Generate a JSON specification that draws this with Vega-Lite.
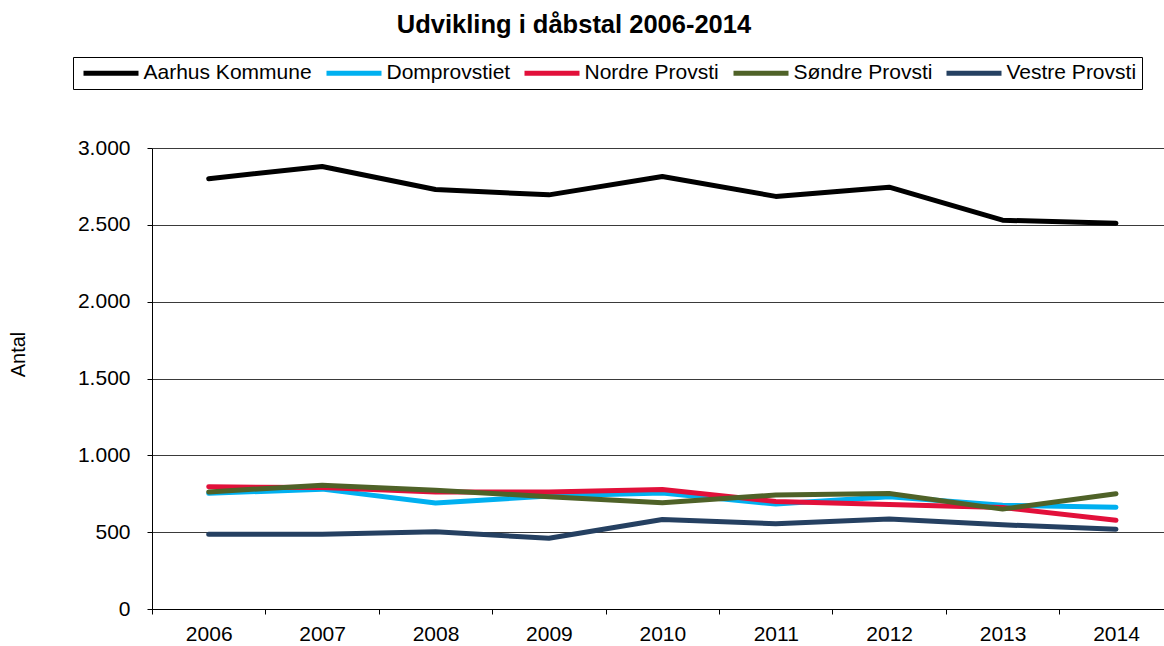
{
  "$schema": "https://vega.github.io/schema/vega-lite/v6.json",
  "width": 1012,
  "height": 461,
  "autosize": "none",
  "padding": {"left": 152, "top": 148, "right": 0, "bottom": 37},
  "title": {
    "text": "Udvikling i dåbstal 2006-2014",
    "fontSize": 25.5,
    "fontWeight": "bold",
    "color": "#000000",
    "anchor": "middle",
    "dx": -84,
    "dy": -18,
    "offset": 0
  },
  "data": {
    "values": [
      {"year": "2006", "series": "Aarhus Kommune", "value": 2800},
      {"year": "2007", "series": "Aarhus Kommune", "value": 2880},
      {"year": "2008", "series": "Aarhus Kommune", "value": 2730},
      {"year": "2009", "series": "Aarhus Kommune", "value": 2695},
      {"year": "2010", "series": "Aarhus Kommune", "value": 2815},
      {"year": "2011", "series": "Aarhus Kommune", "value": 2685},
      {"year": "2012", "series": "Aarhus Kommune", "value": 2745},
      {"year": "2013", "series": "Aarhus Kommune", "value": 2530},
      {"year": "2014", "series": "Aarhus Kommune", "value": 2510},
      {"year": "2006", "series": "Domprovstiet", "value": 753},
      {"year": "2007", "series": "Domprovstiet", "value": 780},
      {"year": "2008", "series": "Domprovstiet", "value": 690},
      {"year": "2009", "series": "Domprovstiet", "value": 735},
      {"year": "2010", "series": "Domprovstiet", "value": 755},
      {"year": "2011", "series": "Domprovstiet", "value": 683},
      {"year": "2012", "series": "Domprovstiet", "value": 730},
      {"year": "2013", "series": "Domprovstiet", "value": 675},
      {"year": "2014", "series": "Domprovstiet", "value": 662},
      {"year": "2006", "series": "Nordre Provsti", "value": 795},
      {"year": "2007", "series": "Nordre Provsti", "value": 790},
      {"year": "2008", "series": "Nordre Provsti", "value": 762},
      {"year": "2009", "series": "Nordre Provsti", "value": 762},
      {"year": "2010", "series": "Nordre Provsti", "value": 777},
      {"year": "2011", "series": "Nordre Provsti", "value": 700},
      {"year": "2012", "series": "Nordre Provsti", "value": 680},
      {"year": "2013", "series": "Nordre Provsti", "value": 660},
      {"year": "2014", "series": "Nordre Provsti", "value": 577},
      {"year": "2006", "series": "Søndre Provsti", "value": 762},
      {"year": "2007", "series": "Søndre Provsti", "value": 806},
      {"year": "2008", "series": "Søndre Provsti", "value": 773},
      {"year": "2009", "series": "Søndre Provsti", "value": 731},
      {"year": "2010", "series": "Søndre Provsti", "value": 692},
      {"year": "2011", "series": "Søndre Provsti", "value": 742},
      {"year": "2012", "series": "Søndre Provsti", "value": 752},
      {"year": "2013", "series": "Søndre Provsti", "value": 650},
      {"year": "2014", "series": "Søndre Provsti", "value": 750},
      {"year": "2006", "series": "Vestre Provsti", "value": 486},
      {"year": "2007", "series": "Vestre Provsti", "value": 486},
      {"year": "2008", "series": "Vestre Provsti", "value": 502},
      {"year": "2009", "series": "Vestre Provsti", "value": 460},
      {"year": "2010", "series": "Vestre Provsti", "value": 582},
      {"year": "2011", "series": "Vestre Provsti", "value": 555},
      {"year": "2012", "series": "Vestre Provsti", "value": 585},
      {"year": "2013", "series": "Vestre Provsti", "value": 548},
      {"year": "2014", "series": "Vestre Provsti", "value": 519}
    ]
  },
  "mark": {"type": "line", "strokeWidth": 5, "strokeCap": "round", "strokeJoin": "round"},
  "encoding": {
    "x": {
      "field": "year",
      "type": "ordinal",
      "bandPosition": 0.5,
      "scale": {"type": "band", "range": [0, 1020.7], "paddingInner": 0, "paddingOuter": 0},
      "axis": {
        "title": null,
        "labelAngle": 0,
        "labelFontSize": 21,
        "labelColor": "#000000",
        "labelPadding": 9,
        "tickBand": "extent",
        "tickSize": 5,
        "tickColor": "#000000",
        "domainColor": "#000000",
        "domainWidth": 1,
        "grid": false
      }
    },
    "y": {
      "field": "value",
      "type": "quantitative",
      "scale": {"domain": [0, 3000], "nice": false},
      "axis": {
        "title": "Antal",
        "titleFontSize": 20,
        "titleFontWeight": "normal",
        "titleColor": "#000000",
        "titleAngle": -90,
        "titleAlign": "center",
        "titleBaseline": "middle",
        "titleX": -133.5,
        "titleY": 206,
        "values": [0, 500, 1000, 1500, 2000, 2500, 3000],
        "labelExpr": "replace(format(datum.value, ','), ',', '.')",
        "labelFontSize": 21,
        "labelColor": "#000000",
        "labelPadding": 17,
        "tickSize": 5,
        "tickColor": "#000000",
        "domainColor": "#000000",
        "grid": true,
        "gridColor": "#3a3a3a",
        "gridWidth": 1
      }
    },
    "color": {
      "field": "series",
      "type": "nominal",
      "scale": {
        "domain": ["Aarhus Kommune", "Domprovstiet", "Nordre Provsti", "Søndre Provsti", "Vestre Provsti"],
        "range": ["#000000", "#00B0F0", "#E2103A", "#4F6228", "#254061"]
      },
      "legend": {
        "orient": "none",
        "legendX": -79,
        "legendY": -91,
        "direction": "horizontal",
        "columns": 5,
        "title": null,
        "symbolType": "M-1,0H9",
        "symbolSize": 121,
        "symbolStrokeWidth": 5,
        "labelFontSize": 21,
        "labelColor": "#000000",
        "labelOffset": 44,
        "labelLimit": 0,
        "columnPadding": 4,
        "padding": 5.5,
        "strokeColor": "#000000"
      }
    }
  },
  "config": {
    "font": "Liberation Sans",
    "view": {"stroke": null}
  }
}
